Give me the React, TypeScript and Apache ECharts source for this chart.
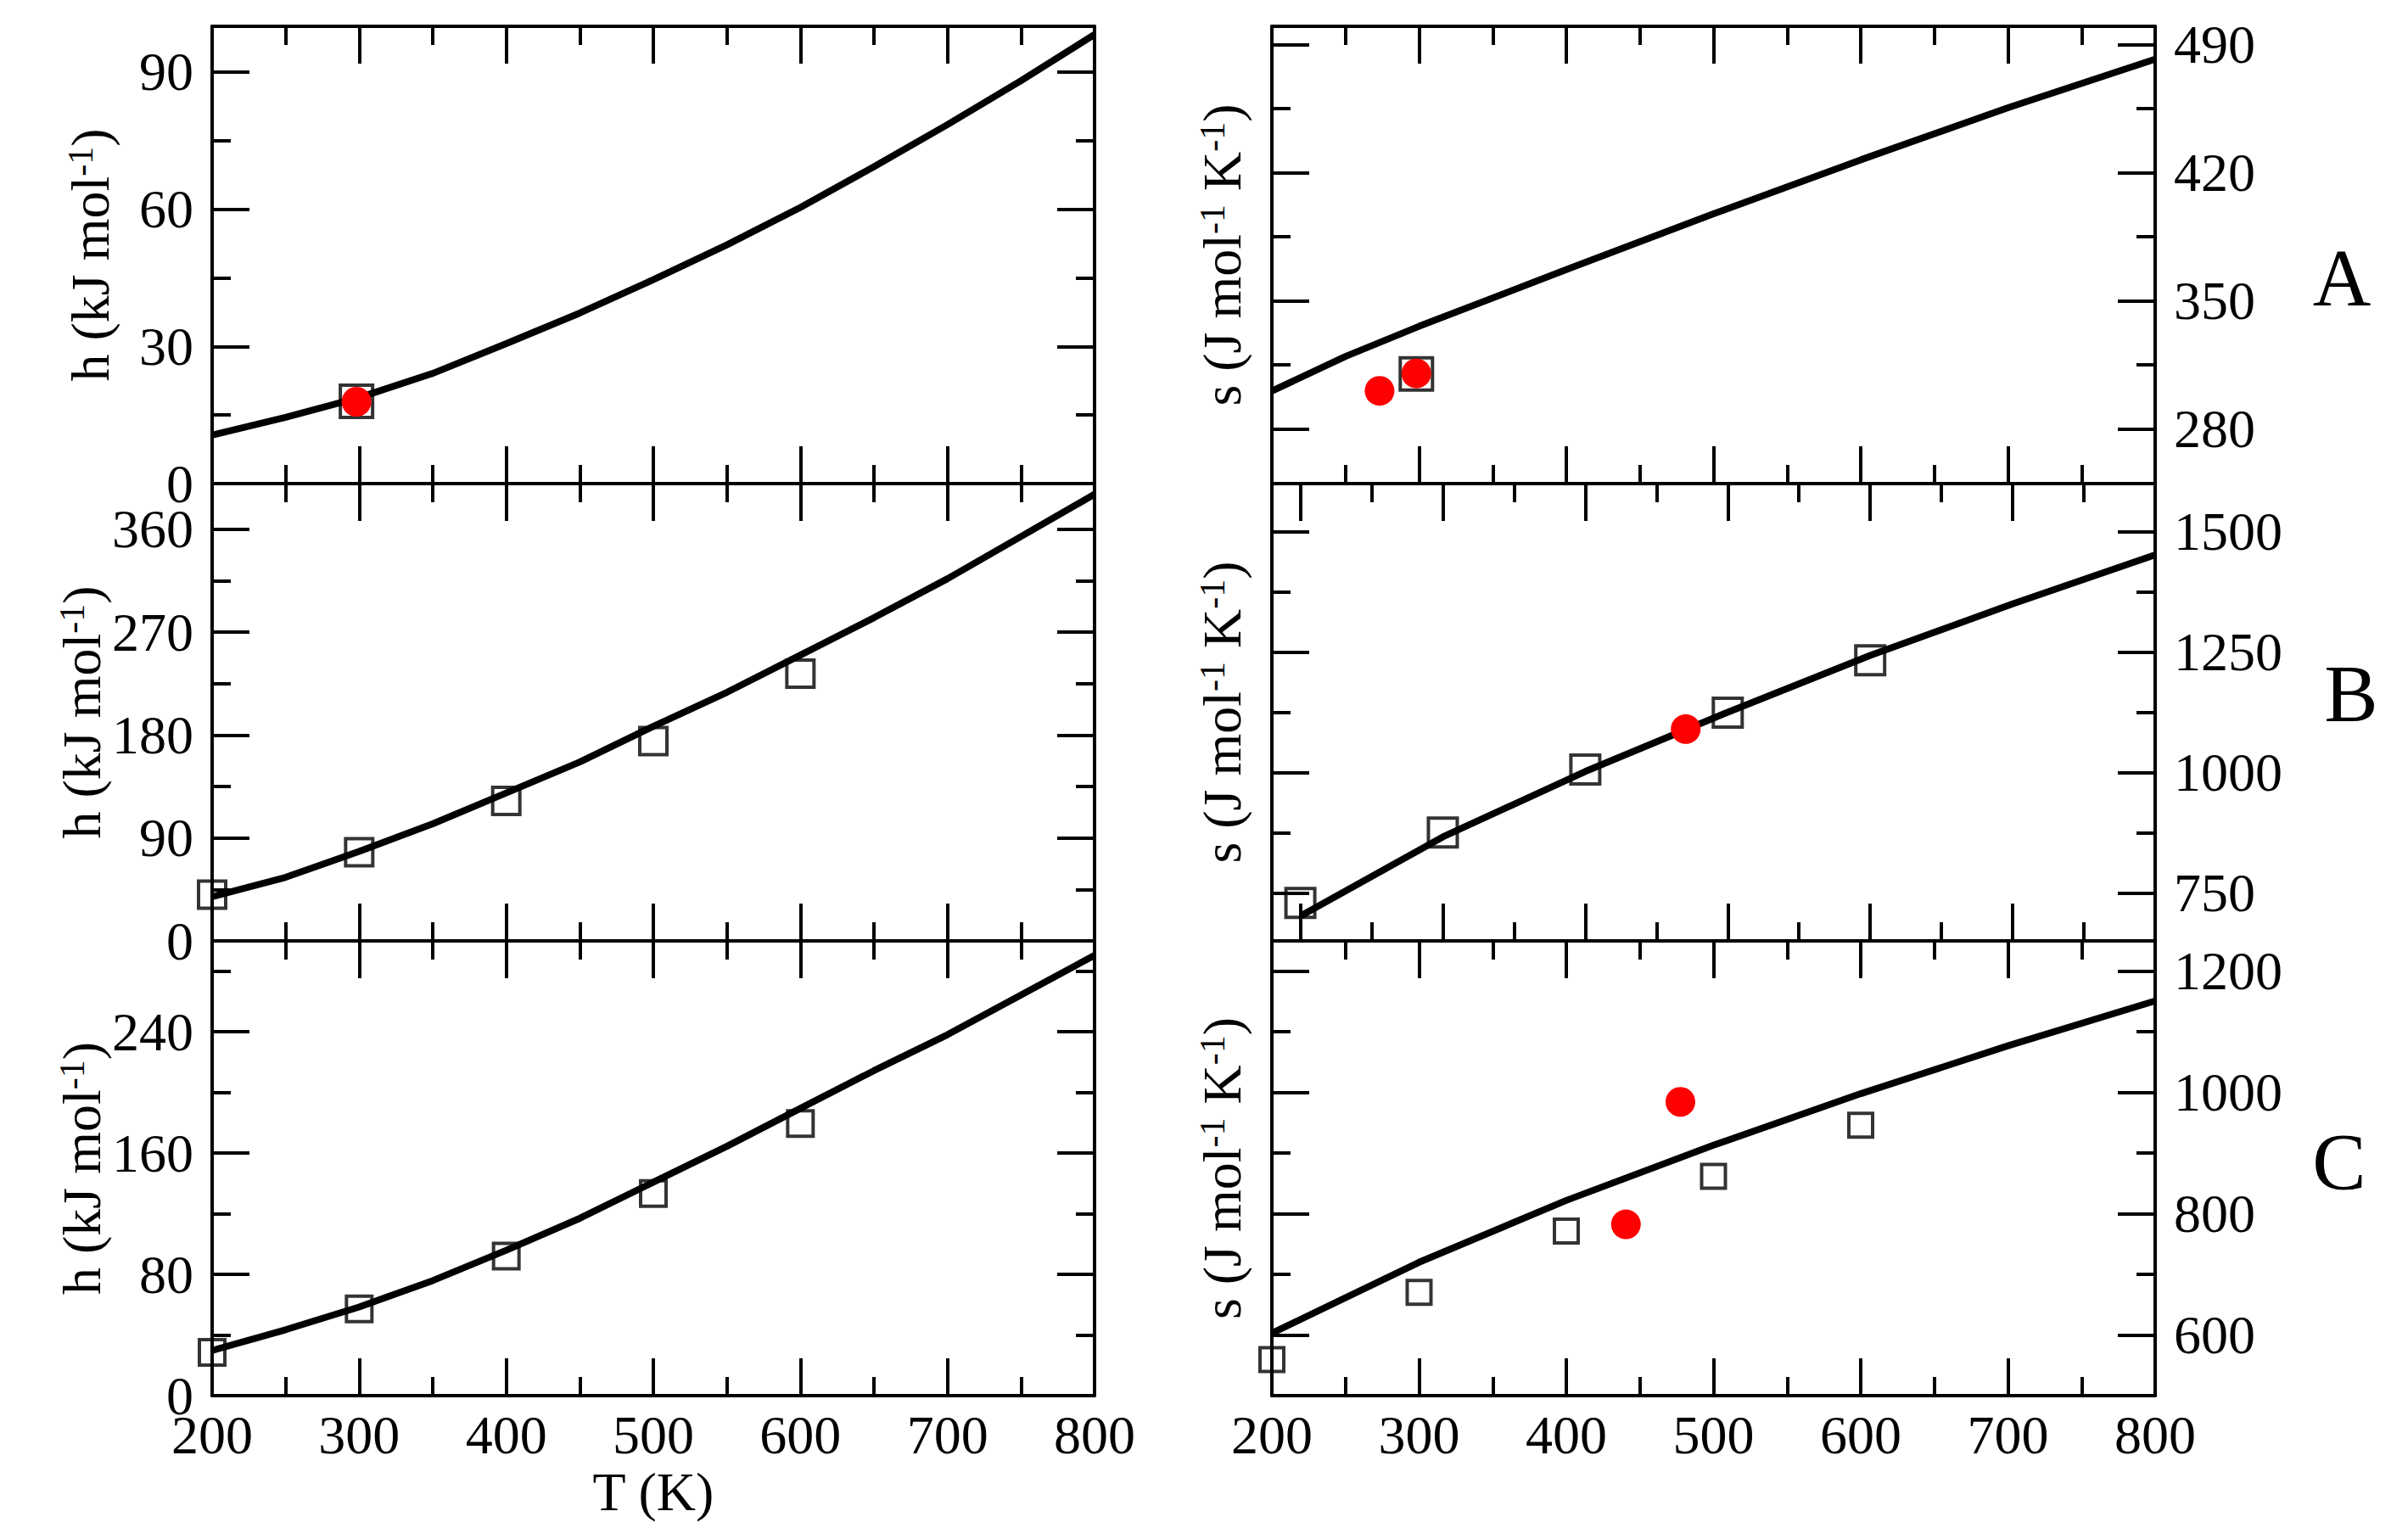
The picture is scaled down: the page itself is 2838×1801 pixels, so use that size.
import React, { useEffect, useRef } from "react";
import * as echarts from "echarts";

// ---------- data ----------
const T_FINE = [200, 250, 300, 350, 400, 450, 500, 550, 600, 650, 700, 750, 800];
const T_RIGHT_A = [200, 250, 300, 400, 500, 600, 700, 800];
const T_COARSE = [200, 300, 400, 500, 600, 700, 800];
const T_SQUARES = [200, 300, 400, 500, 600];

// Panel A
const hA_line = [10.6, 14.5, 18.8, 24.1, 30.6, 37.3, 44.6, 52.2, 60.4, 69.3, 78.5, 88.1, 98.2];
const hA_sqT = [298.15];
const hA_sq = [18.0];
const hA_dotT = [298.15];
const hA_dot = [17.9];
const sA_line = [300.6, 319.5, 336, 367, 397.5, 427, 455.5, 482];
const sA_sqT = [298.15];
const sA_sq = [310];
const sA_dotT = [273.15, 298.15];
const sA_dot = [300.7, 310.2];

// Panel B
const hB_line = [38.6, 55.6, 78.3, 102.4, 129.4, 156.5, 187.7, 217.4, 250, 282.7, 316.8, 353.7, 390.7];
const hB_sq = [40.5, 77.5, 122.4, 174.8, 233.7];
const sB_line = [701.5, 866, 1002, 1125, 1243, 1350, 1452];
const sB_sq = [729, 875, 1006, 1124, 1233];
const sB_dotT = [470.5];
const sB_dot = [1090];

// Panel C
const hC_line = [29.8, 43.5, 58.5, 75.9, 95.9, 117, 140.8, 164.5, 189.5, 214.4, 238.1, 264.3, 290.5];
const hC_sq = [28.5, 57.2, 92.1, 133.3, 179.5];
const sC_line = [603, 720, 822, 913, 998, 1077, 1151];
const sC_sq = [559.6, 670.5, 771.4, 861.7, 945.9];
const sC_dotT = [440.5, 477.5];
const sC_dot = [782.6, 984.5];

// Tick values
const X_MAJOR = [200, 300, 400, 500, 600, 700, 800];
const X_MINOR = [250, 350, 450, 550, 650, 750];
const hA_major = [0, 30, 60, 90];
const hA_minor = [15, 45, 75];
const sA_major = [280, 350, 420, 490];
const sA_minor = [315, 385, 455];
const hB_major = [0, 90, 180, 270, 360];
const hB_minor = [45, 135, 225, 315];
const sB_major = [750, 1000, 1250, 1500];
const sB_minor = [875, 1125, 1375];
const hC_major = [0, 80, 160, 240];
const hC_minor = [40, 120, 200, 280];
const sC_major = [600, 800, 1000, 1200];
const sC_minor = [700, 900, 1100];

const PANEL_LETTERS = ["A", "B", "C"];
const H_NAME = "{b|h (kJ mol}{sup|-1}{b|)}";
const S_NAME = "{b|s (J mol}{sup|-1}{b| K}{sup|-1}{b|)}";
const X_NAME = "T (K)";

// ---------- styling ----------
const FONT = "'Liberation Serif', 'Times New Roman', Times, serif";
const BLACK = "#000000";
const RED = "#ff0000";
const LEFT_X = 250;
const LEFT_W = 1040;
const RIGHT_X = 1499;
const RIGHT_W = 1041;
const ROWS = [
  { top: 31, height: 539 },
  { top: 570, height: 539 },
  { top: 1109, height: 536 },
];

type Panel = {
  left: number;
  width: number;
  top: number;
  height: number;
  xMin: number;
  xMax: number;
  xLabels: boolean;
  xName?: string;
  yMin: number;
  yMax: number;
  yMajor: number[];
  yMinor: number[];
  ySide: "left" | "right";
  yName: string;
  yNameGap: number;
  lineT: number[];
  lineV: number[];
  sqT: number[];
  sqV: number[];
  sqSize: number;
  dotT: number[];
  dotV: number[];
};

const panels: Panel[] = [
  { left: LEFT_X, width: LEFT_W, ...ROWS[0], xMin: 200, xMax: 800, xLabels: false, yMin: 0, yMax: 100, yMajor: hA_major, yMinor: hA_minor, ySide: "left", yName: H_NAME, yNameGap: 112, lineT: T_FINE, lineV: hA_line, sqT: hA_sqT, sqV: hA_sq, sqSize: 38, dotT: hA_dotT, dotV: hA_dot },
  { left: RIGHT_X, width: RIGHT_W, ...ROWS[0], xMin: 200, xMax: 800, xLabels: false, yMin: 250, yMax: 500, yMajor: sA_major, yMinor: sA_minor, ySide: "right", yName: S_NAME, yNameGap: 27, lineT: T_RIGHT_A, lineV: sA_line, sqT: sA_sqT, sqV: sA_sq, sqSize: 38, dotT: sA_dotT, dotV: sA_dot },
  { left: LEFT_X, width: LEFT_W, ...ROWS[1], xMin: 200, xMax: 800, xLabels: false, yMin: 0, yMax: 400, yMajor: hB_major, yMinor: hB_minor, ySide: "left", yName: H_NAME, yNameGap: 112, lineT: T_FINE, lineV: hB_line, sqT: T_SQUARES, sqV: hB_sq, sqSize: 32, dotT: [], dotV: [] },
  { left: RIGHT_X, width: RIGHT_W, ...ROWS[1], xMin: 180, xMax: 800, xLabels: false, yMin: 650, yMax: 1600, yMajor: sB_major, yMinor: sB_minor, ySide: "right", yName: S_NAME, yNameGap: 27, lineT: T_COARSE, lineV: sB_line, sqT: T_SQUARES, sqV: sB_sq, sqSize: 34, dotT: sB_dotT, dotV: sB_dot },
  { left: LEFT_X, width: LEFT_W, ...ROWS[2], xMin: 200, xMax: 800, xLabels: true, xName: X_NAME, yMin: 0, yMax: 300, yMajor: hC_major, yMinor: hC_minor, ySide: "left", yName: H_NAME, yNameGap: 112, lineT: T_FINE, lineV: hC_line, sqT: T_SQUARES, sqV: hC_sq, sqSize: 30, dotT: [], dotV: [] },
  { left: RIGHT_X, width: RIGHT_W, ...ROWS[2], xMin: 200, xMax: 800, xLabels: true, yMin: 500, yMax: 1250, yMajor: sC_major, yMinor: sC_minor, ySide: "right", yName: S_NAME, yNameGap: 27, lineT: T_COARSE, lineV: sC_line, sqT: T_SQUARES, sqV: sC_sq, sqSize: 28, dotT: sC_dotT, dotV: sC_dot },
];

const LETTER_POS = [
  { x: 2760, y: 328 },
  { x: 2771, y: 818 },
  { x: 2757, y: 1370 },
];

const labelStyle = { fontFamily: FONT, fontSize: 64, color: BLACK };
const tickLabelStyle = { fontFamily: FONT, fontSize: 64, lineHeight: 44, color: BLACK };
const fmt = (v: number) => String(v);

function axis(gridIndex: number, position: string, min: number, max: number, ticks: number[], major: boolean, extra: any = {}) {
  return {
    type: "value",
    gridIndex,
    position,
    min,
    max,
    splitLine: { show: false },
    axisLine: { show: major, onZero: false, lineStyle: { color: BLACK, width: 4 } },
    axisTick: { show: true, inside: true, length: major ? 44 : 22, customValues: ticks, lineStyle: { color: BLACK, width: 4 } },
    axisLabel: { show: false },
    ...extra,
  };
}

function buildOption() {
  const grid: any[] = [];
  const xAxis: any[] = [];
  const yAxis: any[] = [];
  const series: any[] = [];
  panels.forEach((p, i) => {
    grid.push({ left: p.left, top: p.top, width: p.width, height: p.height, containLabel: false, outerBoundsMode: "none" });
    const xb: any = {};
    if (p.xLabels) {
      xb.axisLabel = { show: true, customValues: X_MAJOR, formatter: fmt, margin: 24, ...tickLabelStyle };
    }
    if (p.xName) {
      xb.name = p.xName;
      xb.nameLocation = "middle";
      xb.nameGap = 81;
      xb.nameTextStyle = { ...labelStyle };
    }
    xAxis.push(axis(i, "bottom", p.xMin, p.xMax, X_MAJOR, true, xb));
    xAxis.push(axis(i, "bottom", p.xMin, p.xMax, X_MINOR, false));
    xAxis.push(axis(i, "top", p.xMin, p.xMax, X_MAJOR, true));
    xAxis.push(axis(i, "top", p.xMin, p.xMax, X_MINOR, false));

    const yl: any = {
      name: p.yName,
      nameLocation: "middle",
      nameGap: p.yNameGap,
      nameTextStyle: {
        ...labelStyle,
        rich: {
          b: { fontFamily: FONT, fontSize: 64, lineHeight: 64, verticalAlign: "bottom", color: BLACK },
          sup: { fontFamily: FONT, fontSize: 42, lineHeight: 1, verticalAlign: "top", color: BLACK },
        },
      },
    };
    const lab = { axisLabel: { show: true, customValues: p.yMajor, formatter: fmt, margin: 22, ...tickLabelStyle } };
    if (p.ySide === "left") Object.assign(yl, lab);
    yAxis.push(axis(i, "left", p.yMin, p.yMax, p.yMajor, true, yl));
    yAxis.push(axis(i, "left", p.yMin, p.yMax, p.yMinor, false));
    yAxis.push(axis(i, "right", p.yMin, p.yMax, p.yMajor, true, p.ySide === "right" ? lab : {}));
    yAxis.push(axis(i, "right", p.yMin, p.yMax, p.yMinor, false));

    const xi = i * 4;
    series.push({
      type: "line",
      xAxisIndex: xi,
      yAxisIndex: xi,
      data: p.lineT.map((t, k) => [t, p.lineV[k]]),
      symbol: "none",
      showSymbol: false,
      lineStyle: { color: BLACK, width: 8 },
      z: 2,
      silent: true,
    });
    series.push({
      type: "scatter",
      xAxisIndex: xi,
      yAxisIndex: xi,
      data: p.sqT.map((t, k) => [t, p.sqV[k]]),
      symbol: "rect",
      symbolSize: p.sqSize,
      itemStyle: { color: "rgba(0,0,0,0)", borderColor: BLACK, borderWidth: 4 },
      z: 3,
      silent: true,
    });
    if (p.dotT.length) {
      series.push({
        type: "scatter",
        xAxisIndex: xi,
        yAxisIndex: xi,
        data: p.dotT.map((t, k) => [t, p.dotV[k]]),
        symbol: "circle",
        symbolSize: 35,
        itemStyle: { color: RED, opacity: 1 },
        z: 4,
        silent: true,
      });
    }
  });

  const graphic = PANEL_LETTERS.map((L, k) => ({
    type: "text",
    x: LETTER_POS[k].x,
    y: LETTER_POS[k].y,
    style: { text: L, fontFamily: FONT, fontSize: 95, fill: BLACK, align: "center", verticalAlign: "middle" },
  }));

  return { animation: false, backgroundColor: "#ffffff", grid, xAxis, yAxis, series, graphic };
}

export default function App() {
  const ref = useRef<HTMLDivElement>(null);
  useEffect(() => {
    if (!ref.current) return;
    const chart = echarts.init(ref.current, null, { renderer: "svg" });
    chart.setOption(buildOption() as any);
    return () => chart.dispose();
  }, []);
  return (
    <div
      ref={ref}
      style={{ position: "fixed", left: 0, top: 0, width: 2838, height: 1801, background: "#ffffff" }}
    />
  );
}
